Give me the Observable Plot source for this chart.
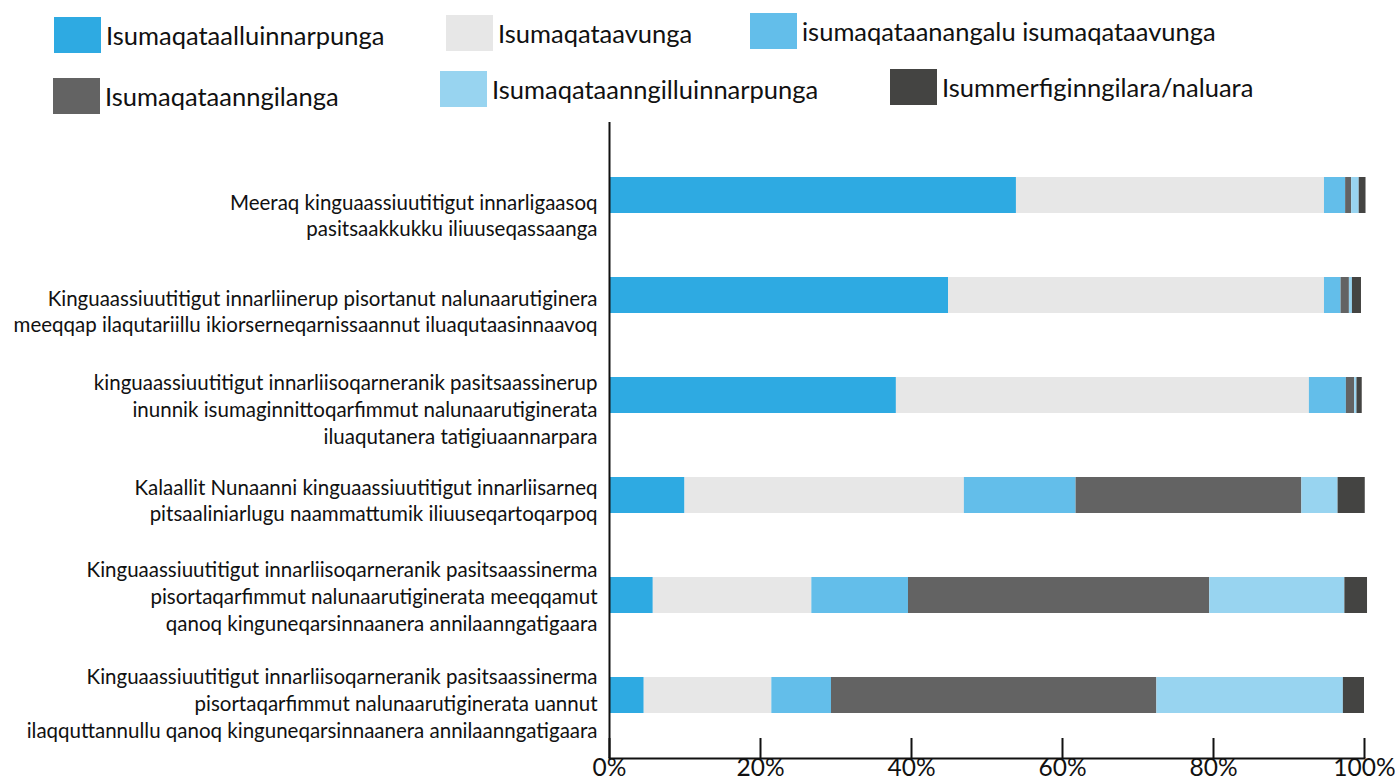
<!DOCTYPE html>
<html>
<head>
<meta charset="utf-8">
<script src="https://cdn.jsdelivr.net/npm/d3@7"></script>
<script src="https://cdn.jsdelivr.net/npm/@observablehq/plot@0.6"></script>
<style>
  html, body { margin: 0; padding: 0; background: #fff; }
  body { width: 1395px; height: 783px; position: relative; overflow: hidden; font-family: Lato, "Open Sans", sans-serif; }
  #chart { position: absolute; left: 0; top: 0; }
  .lg { position: absolute; display: flex; align-items: center; font-size: 25.5px; color: #111; white-space: nowrap; }
  .lg .sw { width: 47px; height: 36px; margin-right: 5px; flex: none; }
</style>
</head>
<body>
<div id="legend"></div>
<div id="chart"></div>
<script>
// ---- data ----
const categories = [
  "Meeraq kinguaassiuutitigut innarligaasoq\npasitsaakkukku iliuuseqassaanga",
  "Kinguaassiuutitigut innarliinerup pisortanut nalunaarutiginera\nmeeqqap ilaqutariillu ikiorserneqarnissaannut iluaqutaasinnaavoq",
  "kinguaassiuutitigut innarliisoqarneranik pasitsaassinerup\ninunnik isumaginnittoqarfimmut nalunaarutiginerata\niluaqutanera tatigiuaannarpara",
  "Kalaallit Nunaanni kinguaassiuutitigut innarliisarneq\npitsaaliniarlugu naammattumik iliuuseqartoqarpoq",
  "Kinguaassiuutitigut innarliisoqarneranik pasitsaassinerma\npisortaqarfimmut nalunaarutiginerata meeqqamut\nqanoq kinguneqarsinnaanera annilaanngatigaara",
  "Kinguaassiuutitigut innarliisoqarneranik pasitsaassinerma\npisortaqarfimmut nalunaarutiginerata uannut\nilaqquttannullu qanoq kinguneqarsinnaanera annilaanngatigaara"
];
const seriesNames = [
  "Isumaqataalluinnarpunga",
  "Isumaqataavunga",
  "isumaqataanangalu isumaqataavunga",
  "Isumaqataanngilanga",
  "Isumaqataanngilluinnarpunga",
  "Isummerfiginngilara/naluara"
];
// values per series, one entry per category (percent)
const agreeFully   = [53.9, 44.9, 38.0, 10.0,  5.8,  4.6];
const agree        = [40.8, 49.8, 54.7, 37.0, 21.0, 16.9];
const partlyAgree  = [ 2.8,  2.2,  4.9, 14.8, 12.8,  7.9];
const disagree     = [ 0.8,  1.1,  1.1, 29.9, 39.9, 43.1];
const disagreeFull = [ 1.0,  0.4,  0.3,  4.8, 17.9, 24.7];
const dontKnow     = [ 0.9,  1.2,  0.7,  3.6,  3.0,  2.8];
const xTicks = [0, 20, 40, 60, 80, 100];

// ---- styles ----
const colors = ["#2EAAE2", "#E7E7E7", "#63BEEA", "#636363", "#98D4F0", "#444442"];
const labelShift = [19, 15, 13, 4, 0, 7];
const legendPos = [
  {left: 54, top: 17}, {left: 446, top: 15}, {left: 750, top: 13},
  {left: 53, top: 78}, {left: 440, top: 71}, {left: 890, top: 69}
];

const seriesValues = [agreeFully, agree, partlyAgree, disagree, disagreeFull, dontKnow];
const rows = [];
categories.forEach((c, i) => {
  seriesNames.forEach((s, j) => rows.push({q: c, series: s, value: seriesValues[j][i]}));
});

// legend
const lg = document.getElementById("legend");
seriesNames.forEach((s, j) => {
  const d = document.createElement("div");
  d.className = "lg";
  d.style.left = legendPos[j].left + "px";
  d.style.top = legendPos[j].top + "px";
  d.innerHTML = `<span class="sw" style="background:${colors[j]}"></span><span>${s}</span>`;
  lg.appendChild(d);
});

const W = 1395, H = 783, mTop = 122, mBottom = 25;
const plot = Plot.plot({
  width: W,
  height: H,
  marginLeft: 609,
  marginRight: 31,
  marginTop: mTop,
  marginBottom: mBottom,
  style: {fontFamily: "Lato, 'Open Sans', sans-serif", color: "#111", background: "transparent", overflow: "visible"},
  x: {domain: [0, 100], axis: null, label: null},
  y: {domain: categories, range: [145, 745], paddingInner: 0.64, paddingOuter: 0.32, axis: null},
  color: {domain: seriesNames, range: colors},
  marks: [
    Plot.barX(rows, {x: "value", y: "q", fill: "series", order: seriesNames}),
    Plot.ruleX([0], {stroke: "#111", strokeWidth: 2}),
    Plot.frame({anchor: "bottom", stroke: "#111", strokeWidth: 2}),
    Plot.ruleX(xTicks, {x: d => d, stroke: "#111", strokeWidth: 2, insetTop: H - mTop - mBottom - 20}),
    Plot.axisX(xTicks, {tickSize: 0, tickPadding: 0, tickFormat: d => d + "%", fontSize: 24.5, label: null}),
    ...categories.map((c, i) => Plot.text([c], {
      y: d => d, text: d => d, frameAnchor: "left", textAnchor: "end",
      dx: -12, dy: labelShift[i], lineHeight: 1.3, fontSize: 20.5, fill: "#111"
    }))
  ]
});
document.getElementById("chart").appendChild(plot);
</script>
</body>
</html>
